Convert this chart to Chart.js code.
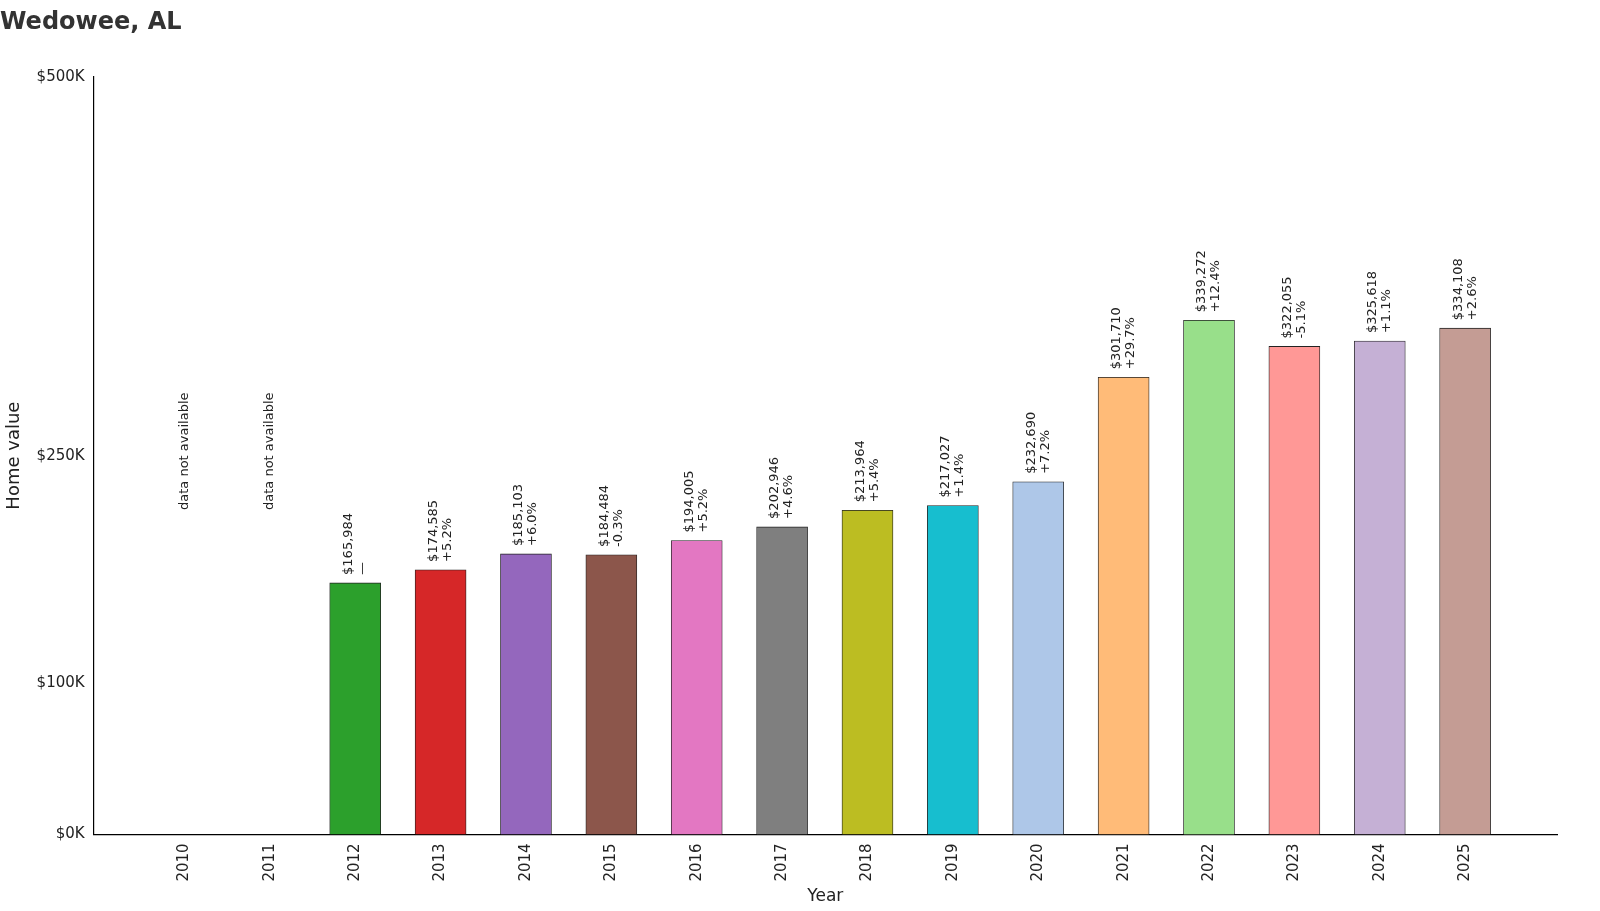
<!DOCTYPE html>
<html><head><meta charset="utf-8">
<script src="https://cdn.jsdelivr.net/npm/chart.js@4"></script>
<style>body{margin:0;background:#fff}#w{width:1600px;height:911px}</style></head>
<body><div id="w"><canvas id="c"></canvas></div>
<script>
const years=[2010,2011,2012,2013,2014,2015,2016,2017,2018,2019,2020,2021,2022,2023,2024,2025];
const values=[null,null,165984,174585,185103,184484,194005,202946,213964,217027,232690,301710,339272,322055,325618,334108];
const changes=[null,null,"—","+5.2%","+6.0%","-0.3%","+5.2%","+4.6%","+5.4%","+1.4%","+7.2%","+29.7%","+12.4%","-5.1%","+1.1%","+2.6%"];
const colors=["#1f77b4","#ff7f0e","#2ca02c","#d62728","#9467bd","#8c564b","#e377c2","#7f7f7f","#bcbd22","#17becf","#aec7e8","#ffbb78","#98df8a","#ff9896","#c5b0d5","#c49c94"];
const yTicks=[0,100000,250000,500000];
const F='"DejaVu Sans", sans-serif';
const labelPlugin={id:'lbl',afterDatasetsDraw(ch){
 const ctx=ch.ctx,x=ch.scales.x,y=ch.scales.y;
 ctx.save();ctx.font='13px '+F;ctx.fillStyle='#222';ctx.textAlign='left';ctx.textBaseline='middle';
 years.forEach((yr,i)=>{
  const px=x.getPixelForValue(yr);
  ctx.save();
  if(values[i]==null){
   ctx.translate(px,510);ctx.rotate(-Math.PI/2);ctx.fillText('data not available',0,0);
  }else{
   const py=y.getPixelForValue(values[i])-8;
   ctx.translate(px,py);ctx.rotate(-Math.PI/2);
   ctx.fillText('$'+values[i].toLocaleString('en-US'),0,-7);
   ctx.fillText(changes[i],0,7);
  }
  ctx.restore();
 });
 ctx.restore();
}};
new Chart(document.getElementById('c'),{type:'bar',
 data:{labels:years,datasets:[{data:years.map((yr,i)=>({x:yr,y:values[i]})),backgroundColor:colors,borderColor:'#222',borderWidth:0.8,barThickness:51}]},
 options:{responsive:true,maintainAspectRatio:false,animation:false,
  layout:{padding:{left:0,right:43,top:0,bottom:0}},
  plugins:{legend:{display:false},tooltip:{enabled:false},
   title:{display:true,text:'Wedowee, AL',align:'start',color:'#333',font:{family:F,size:24,weight:'bold'},padding:{top:8,bottom:40}}},
  scales:{
   x:{type:'linear',min:2008.936,max:2026.076,offset:false,grid:{display:false,drawTicks:true,tickLength:6,tickColor:'#000'},border:{color:'#000',width:1.2},
    afterBuildTicks(a){a.ticks=years.map(v=>({value:v}));},
    ticks:{color:'#222',font:{family:F,size:15},maxRotation:90,minRotation:90,callback:v=>String(v)},
    title:{display:true,text:'Year',color:'#222',font:{family:F,size:17},padding:{top:2}}},
   y:{min:0,max:500000,grid:{display:false,tickLength:6,tickColor:'#000'},border:{color:'#000',width:1.2},
    afterBuildTicks(a){a.ticks=yTicks.map(v=>({value:v}));},
    ticks:{color:'#222',font:{family:F,size:15},callback:v=>'$'+(v/1000)+'K'},
    title:{display:true,text:'Home value',color:'#222',font:{family:F,size:18},padding:{bottom:8}}}
  }},
 plugins:[labelPlugin]});
</script></body></html>
